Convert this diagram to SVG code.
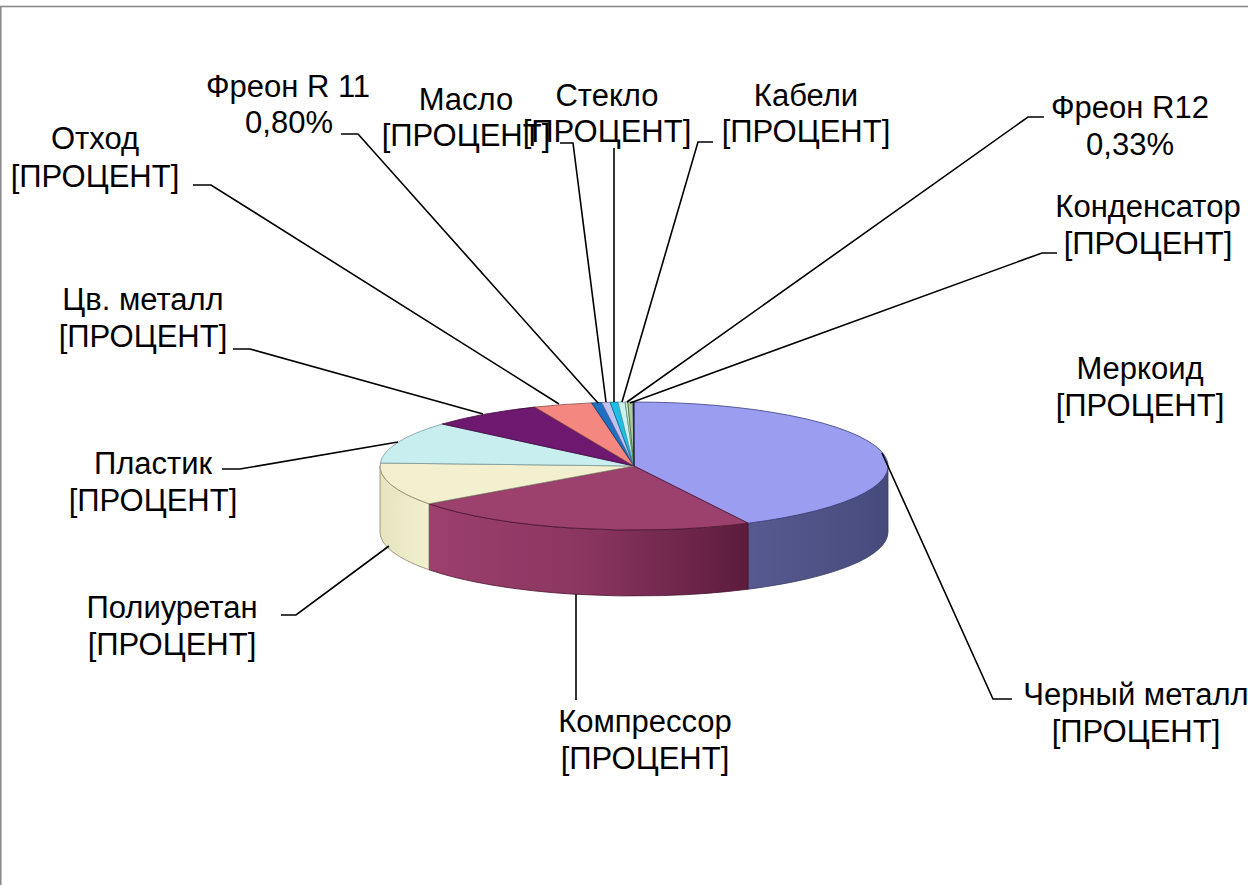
<svg xmlns="http://www.w3.org/2000/svg" width="1248" height="885" viewBox="0 0 1248 885">
<style>
.lbl{font-family:"Liberation Sans",Arial,sans-serif;font-size:31px;fill:#000;text-anchor:middle}
.ld{fill:none;stroke:#000;stroke-width:1.6}
.edge{stroke-width:0.8;stroke-linejoin:round}
</style>
<defs>
<linearGradient id="gComp" x1="429" y1="0" x2="748" y2="0" gradientUnits="userSpaceOnUse">
<stop offset="0" stop-color="#9c406e"/><stop offset="0.5" stop-color="#8a3560"/><stop offset="1" stop-color="#5c1c3c"/>
</linearGradient>
<linearGradient id="gBlue" x1="748" y1="0" x2="888" y2="0" gradientUnits="userSpaceOnUse">
<stop offset="0" stop-color="#565a90"/><stop offset="1" stop-color="#474b7c"/>
</linearGradient>
<linearGradient id="gCream" x1="380" y1="0" x2="429" y2="0" gradientUnits="userSpaceOnUse">
<stop offset="0" stop-color="#e6e3c0"/><stop offset="1" stop-color="#f3f0d0"/>
</linearGradient>
</defs>
<rect x="0.75" y="6.5" width="1260" height="900" fill="#fff" stroke="#8a8a8a" stroke-width="1.6"/>

<g id="pie">
<g id="sides">
<path class="edge" d="M888,466 A254,64 0 0 1 748.1,523.2 L748.1,589.2 A254,64 0 0 0 888,532 Z" fill="url(#gBlue)" stroke="#3a3d66"/>
<path class="edge" d="M748.1,523.2 A254,64 0 0 1 429,503.8 L429,569.8 A254,64 0 0 0 748.1,589.2 Z" fill="url(#gComp)" stroke="#4a1530"/>
<path class="edge" d="M429,503.8 A254,64 0 0 1 380,466 L380,532 A254,64 0 0 0 429,569.8 Z" fill="url(#gCream)" stroke="#8a8870"/>
</g>
<g id="s-chernyi"><path class="edge" d="M634,466 L634,402 A254,64 0 0 1 748.1,523.2 Z" fill="#9b9ef0" stroke="#3a3d80"/></g>
<g id="s-kompressor"><path class="edge" d="M634,466 L748.1,523.2 A254,64 0 0 1 429,503.8 Z" fill="#9c406e" stroke="#4a1530"/></g>
<g id="s-poliuretan"><path class="edge" d="M634,466 L429,503.8 A254,64 0 0 1 380.3,463 Z" fill="#f3f0d0" stroke="#8a8870"/></g>
<g id="s-plastik"><path class="edge" d="M634,466 L380.3,463 A254,64 0 0 1 442.3,424 Z" fill="#c9eef0" stroke="#7a9a9c"/></g>
<g id="s-cvmetall"><path class="edge" d="M634,466 L442.3,424 A254,64 0 0 1 534.8,407.1 Z" fill="#6e1870" stroke="#3a0a3c"/></g>
<g id="s-othod"><path class="edge" d="M634,466 L534.8,407.1 A254,64 0 0 1 591.6,402.9 Z" fill="#f4877f" stroke="#8a4a44"/></g>
<g id="s-freon11"><path class="edge" d="M634,466 L591.6,402.9 A254,64 0 0 1 601.7,402.5 Z" fill="#1f6fc2" stroke="#103a6a"/></g>
<g id="s-maslo"><path class="edge" d="M634,466 L601.7,402.5 A254,64 0 0 1 610.1,402.3 Z" fill="#c2c2f2" stroke="#6a6a9a"/></g>
<g id="s-steklo"><path class="edge" d="M634,466 L610.1,402.3 A254,64 0 0 1 618,402.1 Z" fill="#1cc0e6" stroke="#0c6a80"/></g>
<g id="s-kabeli"><path class="edge" d="M634,466 L618,402.1 A254,64 0 0 1 625.1,402.04 Z" fill="#cbf1f1" stroke="#6a9a9a"/></g>
<g id="s-freon12"><path class="edge" d="M634,466 L625.1,402.04 A254,64 0 0 1 627.8,402.02 Z" fill="#d2ecd2" stroke="#6a8a6a"/></g>
<g id="s-kondensator"><path class="edge" d="M634,466 L627.8,402.02 A254,64 0 0 1 633.1,402 Z" fill="#a8cca0" stroke="#4a6a44"/></g>
<g id="s-merkoid"><path class="edge" d="M634,466 L633.1,402 A254,64 0 0 1 634,402 Z" fill="#303060" stroke="#202040"/></g>
</g>

<g id="connectors">
<polyline class="ld" points="882,453 993,699 1012,699"/>
<polyline class="ld" points="576,594 576,700"/>
<polyline class="ld" points="389,546 296,615 281,615"/>
<polyline class="ld" points="398,442 240,469 222,469"/>
<polyline class="ld" points="483,414 250,349 233,349"/>
<polyline class="ld" points="559,404 211,185 193,185"/>
<polyline class="ld" points="598,403 358,134 341,134"/>
<polyline class="ld" points="606,402 573,143 560,143"/>
<polyline class="ld" points="614,402 614,148"/>
<polyline class="ld" points="622,402 698,142 713,142"/>
<polyline class="ld" points="627,402 1028,117 1044,117"/>
<polyline class="ld" points="630,403 1042,253 1057,253"/>
</g>

<g id="labels">
<g id="l-freon11"><text class="lbl" x="288" y="97">Фреон R 11</text><text class="lbl" x="289" y="133">0,80%</text></g>
<g id="l-maslo"><text class="lbl" x="466" y="110">Масло</text><text class="lbl" x="466" y="146">[ПРОЦЕНТ]</text></g>
<g id="l-steklo"><text class="lbl" x="607" y="106">Стекло</text><text class="lbl" x="607" y="142">[ПРОЦЕНТ]</text></g>
<g id="l-kabeli"><text class="lbl" x="806" y="106">Кабели</text><text class="lbl" x="806" y="142">[ПРОЦЕНТ]</text></g>
<g id="l-freon12"><text class="lbl" x="1130" y="118">Фреон R12</text><text class="lbl" x="1130" y="155">0,33%</text></g>
<g id="l-kondensator"><text class="lbl" x="1148" y="217">Конденсатор</text><text class="lbl" x="1148" y="254">[ПРОЦЕНТ]</text></g>
<g id="l-merkoid"><text class="lbl" x="1140" y="379">Меркоид</text><text class="lbl" x="1140" y="416">[ПРОЦЕНТ]</text></g>
<g id="l-chernyi"><text class="lbl" x="1136" y="705">Черный металл</text><text class="lbl" x="1136" y="742">[ПРОЦЕНТ]</text></g>
<g id="l-kompressor"><text class="lbl" x="645" y="732">Компрессор</text><text class="lbl" x="645" y="769">[ПРОЦЕНТ]</text></g>
<g id="l-poliuretan"><text class="lbl" x="172" y="618">Полиуретан</text><text class="lbl" x="172" y="655">[ПРОЦЕНТ]</text></g>
<g id="l-plastik"><text class="lbl" x="153" y="474">Пластик</text><text class="lbl" x="153" y="511">[ПРОЦЕНТ]</text></g>
<g id="l-cvmetall"><text class="lbl" x="143" y="310">Цв. металл</text><text class="lbl" x="143" y="347">[ПРОЦЕНТ]</text></g>
<g id="l-othod"><text class="lbl" x="95" y="149">Отход</text><text class="lbl" x="95" y="187">[ПРОЦЕНТ]</text></g>
</g>
</svg>
